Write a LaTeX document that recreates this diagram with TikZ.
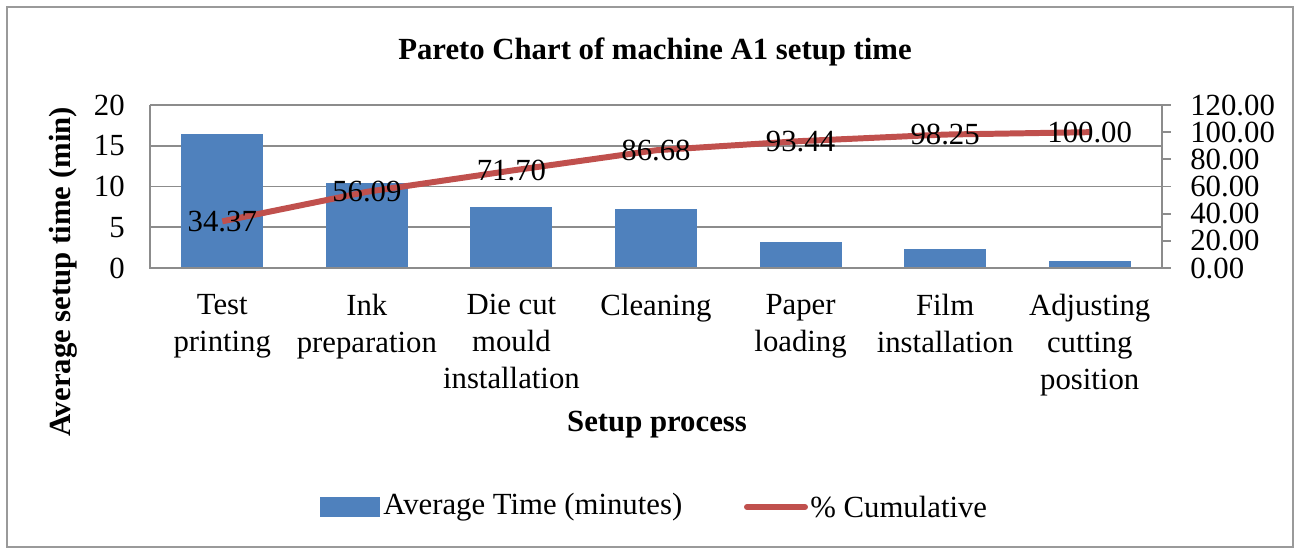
\documentclass[tikz,border=0pt]{standalone}
\usepackage{fontspec}
\setmainfont{Liberation Serif}
\definecolor{barblue}{HTML}{4F81BD}
\definecolor{linered}{HTML}{C0504D}
\definecolor{gridgray}{HTML}{8C8C8C}
\definecolor{framegray}{HTML}{9A9A9A}
\begin{document}
\begin{tikzpicture}[x=0.02cm,y=-0.02cm,
        every node/.style={font=\fontsize{17.5}{21}\selectfont},
        grid/.style={draw=gridgray,line width=1.1pt},
        bar/.style={fill=barblue},
        cumline/.style={draw=linered,line width=3.4pt,line join=round},
        datalabel/.style={inner sep=0pt},
        catlabel/.style={anchor=north,align=center,inner sep=0pt},
        boldlabel/.style={font=\fontsize{17.5}{21}\selectfont\bfseries}]

  \useasboundingbox (0,0) rectangle (1299,549);
  \draw[framegray,line width=1.2pt] (7,7) rectangle (1293,547);

  % grid and axes
  \foreach \v in {5,10,15,20}
    \draw[grid] (150,{268-\v*8.15}) -- (1162,{268-\v*8.15});
  \draw[grid] (1162,105) -- (1171,105);
  \foreach \p in {0,20,...,100}
    \draw[grid] (1162,{268-\p*1.3583}) -- (1171,{268-\p*1.3583});

  % bars
  \foreach \i/\v in {1/16.5,2/10.43,3/7.49,4/7.19,5/3.24,6/2.31,7/0.84}
    \fill[bar] ({150+144.57*(\i-0.5)-41},268) rectangle ({150+144.57*(\i-0.5)+41},{268-\v*8.15});

  \draw[grid] (150,105) -- (150,268) -- (1162,268) -- (1162,105);

  % cumulative line
  \foreach \i/\p in {1/34.37,2/56.09,3/71.70,4/86.68,5/93.44,6/98.25,7/100.00}
    \coordinate (p\i) at ({150+144.57*(\i-0.5)},{268-\p*1.3583});
  \draw[cumline] (p1) -- (p2) -- (p3) -- (p4) -- (p5) -- (p6) -- (p7);
  \foreach \i/\t in {1/34.37,2/56.09,3/71.70,4/86.68,5/93.44,6/98.25,7/100.00}
    \node[datalabel] (lab\i) at (p\i) {\t};

  % axis labels
  \foreach \v in {0,5,10,15,20}
    \node[anchor=east,inner sep=0pt] (yl\v) at (125,{268-\v*8.15}) {\v};
  \foreach \p/\t in {0/0.00,20/20.00,40/40.00,60/60.00,80/80.00,100/100.00,120/120.00}
    \node[anchor=west,inner sep=0pt] (yr\p) at (1190,{268-\p*1.3583}) {\t};
  \foreach \i/\t in {1/{Test\\printing},2/{Ink\\preparation},3/{Die cut\\mould\\installation},
      4/{Cleaning},5/{Paper\\loading},6/{Film\\installation},7/{Adjusting\\cutting\\position}}
    \node[catlabel] (cat\i) at ({150+144.57*(\i-0.5)},294) {\t};

  \node[boldlabel] (title) at (655,52) {Pareto Chart of machine A1 setup time};
  \node[boldlabel,rotate=90] (ytitle) at (63,272) {Average setup time (min)};
  \node[boldlabel] (xtitle) at (657,425) {Setup process};

  % legend
  \fill[bar] (320,497) rectangle (380,517);
  \node[anchor=west,inner sep=0pt] (legbar) at (383,507) {Average Time (minutes)};
  \draw[cumline,line cap=round] (747,507) -- (805,507);
  \node[anchor=west,inner sep=0pt] (legline) at (810,507) {\% Cumulative};

\end{tikzpicture}
\end{document}
